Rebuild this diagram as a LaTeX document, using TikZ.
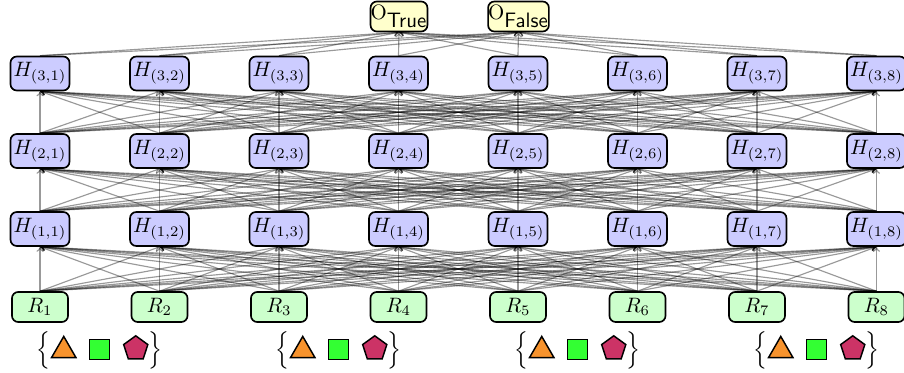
\documentclass[tikz,border=0pt]{standalone}
\usetikzlibrary{shapes.geometric,arrows.meta,backgrounds}
\definecolor{hfill}{RGB}{204,204,255}
\definecolor{rfill}{RGB}{204,255,204}
\definecolor{ofill}{RGB}{255,255,204}
\definecolor{triorange}{RGB}{247,147,45}
\definecolor{sqgreen}{RGB}{51,255,51}
\definecolor{pentred}{RGB}{204,51,102}
\newcommand{\myLbrace}{$\left\{\vrule height 8pt depth 6pt width 0pt\right.$}
\newcommand{\myRbrace}{$\left.\vrule height 8pt depth 6pt width 0pt\right\}$}
\tikzset{
  base/.style={draw=black, line width=0.8pt, rounded corners=3pt, inner sep=0pt},
  hbox/.style={base, fill=hfill, minimum width=28.3pt, minimum height=16.3pt},
  rbox/.style={base, fill=rfill, minimum width=26.9pt, minimum height=14.4pt},
  obox/.style={base, fill=ofill, minimum width=26.4pt, minimum height=14.4pt},
  conn/.style={draw=black, opacity=0.4, line width=0.55pt, -{To[length=2.4pt,width=3.4pt]}},
  tri/.style={regular polygon, regular polygon sides=3, draw=black, line width=0.7pt, fill=triorange, minimum size=13.5pt, inner sep=0pt},
  sq/.style={rectangle, draw=black, line width=0.7pt, fill=sqgreen, minimum size=9.6pt, inner sep=0pt},
  pent/.style={regular polygon, regular polygon sides=5, draw=black, line width=0.7pt, fill=pentred, minimum size=12.2pt, inner sep=0pt},
  brace/.style={inner sep=0pt, font=\large}
}
\begin{document}
\begin{tikzpicture}[x=0.48pt, y=-0.48pt]
\useasboundingbox (0,0) rectangle (904,373);
\clip (0,0) rectangle (904,373);
% nodes
\foreach \i in {1,...,8} {
  \pgfmathsetmacro{\xx}{40+119.5*(\i-1)}
  \node[rbox] (R\i) at (\xx,307) {$R_{\i}$};
  \node[hbox] (H1\i) at (\xx,229) {$H_{(1,\i)}$};
  \node[hbox] (H2\i) at (\xx,151) {$H_{(2,\i)}$};
  \node[hbox] (H3\i) at (\xx,73.5) {$H_{(3,\i)}$};
}
\node[obox] (OT) at (399,16.5) {$\mathrm{O}_{\textsf{True}}$};
\node[obox] (OF) at (518.5,16.5) {$\mathrm{O}_{\textsf{False}}$};
% connectors (behind the nodes)
\begin{scope}[on background layer]
\foreach \i in {1,...,8} {
  \foreach \j in {1,...,8} {
    \draw[conn] (R\i.north) -- (H1\j.south);
    \draw[conn] (H1\i.north) -- (H2\j.south);
    \draw[conn] (H2\i.north) -- (H3\j.south);
  }
  \draw[conn] (H3\i.north) -- (OT.south);
  \draw[conn] (H3\i.north) -- (OF.south);
}
\end{scope}
% sets
\foreach \k in {1,...,4} {
  \pgfmathsetmacro{\cx}{99.75+239*(\k-1)}
  \node[brace] (lb\k) at (\cx-55,350) {\myLbrace};
  \node[tri] (t\k) at (\cx-36,350.5) {};
  \node[sq] (s\k) at (\cx,349.5) {};
  \node[pent] (p\k) at (\cx+36,348.5) {};
  \node[brace] (rb\k) at (\cx+54,350) {\myRbrace};
}
\end{tikzpicture}
\end{document}
